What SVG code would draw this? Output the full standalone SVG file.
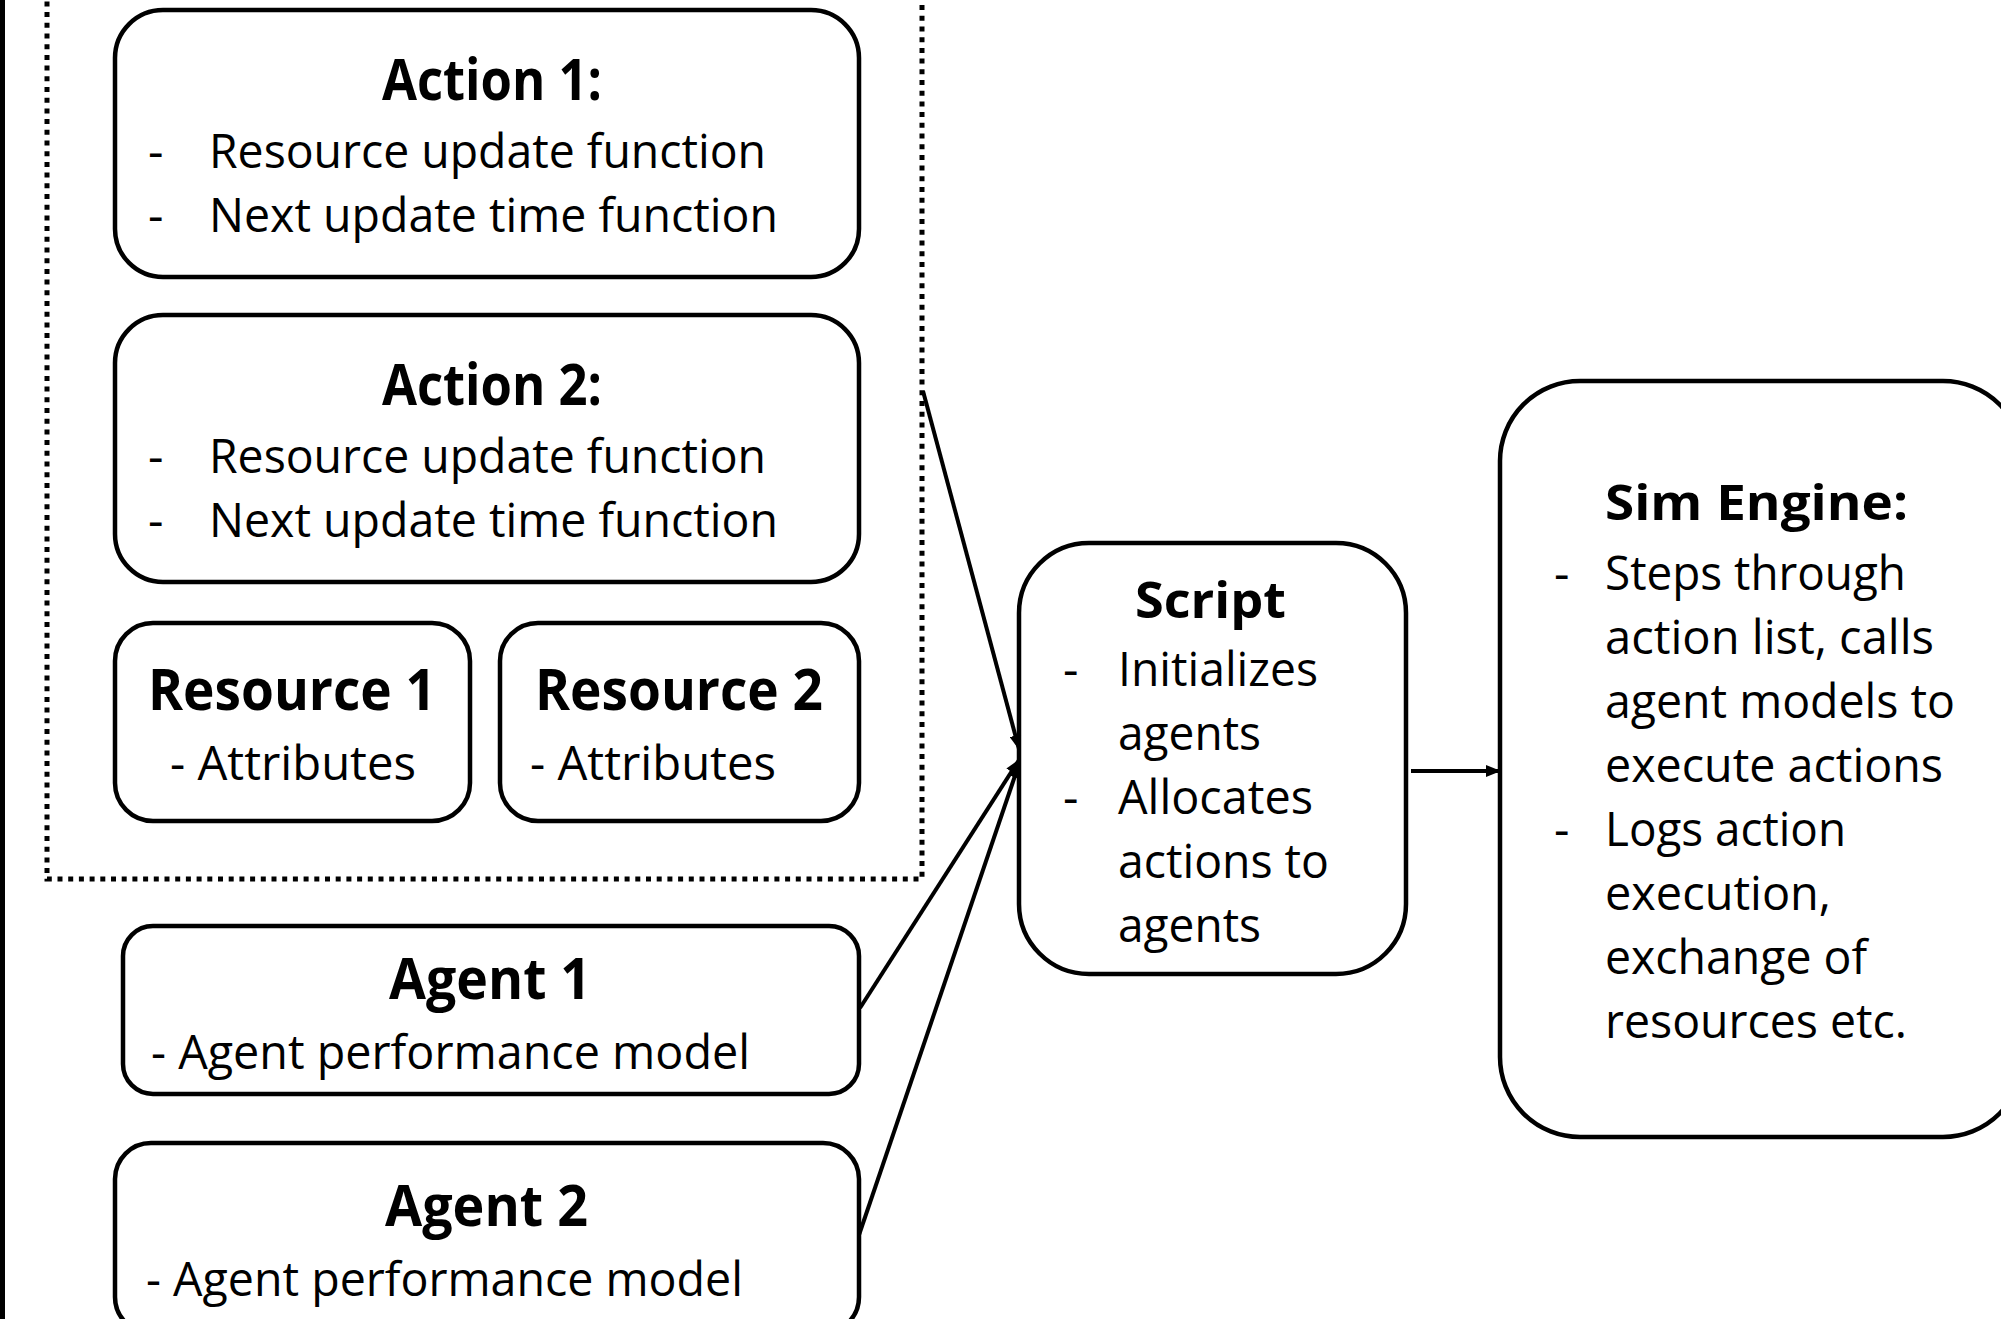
<svg xmlns="http://www.w3.org/2000/svg" width="2001" height="1319" viewBox="0 0 2001 1319">
<style>
.box{fill:#fff;stroke:#000;stroke-width:4.5}
.t{font-family:"Open Sans","Liberation Sans",sans-serif;fill:#000}
.b{font-weight:bold;font-size:58px}
.r{font-size:48px}
.st{font-size:50px;font-weight:bold}
.conn{stroke:#000;stroke-width:4;fill:none}
</style>
<defs>
<marker id="ah" markerUnits="userSpaceOnUse" markerWidth="16" markerHeight="12" refX="14" refY="6" orient="auto">
<path d="M0,0 L15,6 L0,12 z" fill="#000"/>
</marker>
</defs>
<rect width="2001" height="1319" fill="#fff"/>
<rect x="0" y="0" width="5" height="1319" fill="#000"/>
<g id="container">
<path d="M47,-20 V879 H922 V-20" fill="none" stroke="#000" stroke-width="5" stroke-dasharray="5 5.7"/>
</g>
<g id="action1">
<rect class="box" x="115" y="10" width="744" height="267" rx="48"/>
<text class="t b" x="382" y="100" textLength="220" lengthAdjust="spacingAndGlyphs">Action 1:</text>
<text class="t r" x="148" y="168">-</text>
<text class="t r" x="209" y="168" textLength="557" lengthAdjust="spacingAndGlyphs">Resource update function</text>
<text class="t r" x="148" y="232">-</text>
<text class="t r" x="209" y="232" textLength="569" lengthAdjust="spacingAndGlyphs">Next update time function</text>
</g>
<g id="action2">
<rect class="box" x="115" y="315" width="744" height="267" rx="48"/>
<text class="t b" x="382" y="405" textLength="220" lengthAdjust="spacingAndGlyphs">Action 2:</text>
<text class="t r" x="148" y="473">-</text>
<text class="t r" x="209" y="473" textLength="557" lengthAdjust="spacingAndGlyphs">Resource update function</text>
<text class="t r" x="148" y="537">-</text>
<text class="t r" x="209" y="537" textLength="569" lengthAdjust="spacingAndGlyphs">Next update time function</text>
</g>
<g id="resource1">
<rect class="box" x="115" y="623" width="355" height="198" rx="38"/>
<text class="t b" x="148" y="710" textLength="288" lengthAdjust="spacingAndGlyphs">Resource 1</text>
<text class="t r" x="170" y="780" textLength="246" lengthAdjust="spacingAndGlyphs">- Attributes</text>
</g>
<g id="resource2">
<rect class="box" x="500" y="623" width="359" height="198" rx="38"/>
<text class="t b" x="535" y="710" textLength="288" lengthAdjust="spacingAndGlyphs">Resource 2</text>
<text class="t r" x="530" y="780" textLength="246" lengthAdjust="spacingAndGlyphs">- Attributes</text>
</g>
<g id="agent1">
<rect class="box" x="123" y="926" width="736" height="168" rx="30"/>
<text class="t b" x="389" y="999" textLength="202" lengthAdjust="spacingAndGlyphs">Agent 1</text>
<text class="t r" x="151" y="1069" textLength="599" lengthAdjust="spacingAndGlyphs">- Agent performance model</text>
</g>
<g id="agent2">
<rect class="box" x="115" y="1143" width="744" height="190" rx="36"/>
<text class="t b" x="385" y="1226" textLength="203" lengthAdjust="spacingAndGlyphs">Agent 2</text>
<text class="t r" x="146" y="1296" textLength="597" lengthAdjust="spacingAndGlyphs">- Agent performance model</text>
</g>
<g id="script">
<rect class="box" x="1019" y="543" width="387" height="431" rx="70"/>
<text class="t st" x="1135" y="618" textLength="151" lengthAdjust="spacingAndGlyphs">Script</text>
<text class="t r" x="1063" y="686">-</text>
<text class="t r" x="1118" y="686" textLength="200" lengthAdjust="spacingAndGlyphs">Initializes</text>
<text class="t r" x="1118" y="750" textLength="143" lengthAdjust="spacingAndGlyphs">agents</text>
<text class="t r" x="1063" y="814">-</text>
<text class="t r" x="1118" y="814" textLength="195" lengthAdjust="spacingAndGlyphs">Allocates</text>
<text class="t r" x="1118" y="878" textLength="211" lengthAdjust="spacingAndGlyphs">actions to</text>
<text class="t r" x="1118" y="942" textLength="143" lengthAdjust="spacingAndGlyphs">agents</text>
</g>
<g id="simengine">
<rect class="box" x="1500" y="381" width="523" height="756" rx="80"/>
<text class="t" x="1605" y="520" font-size="49" font-weight="bold" textLength="303" lengthAdjust="spacingAndGlyphs">Sim Engine:</text>
<text class="t r" x="1554" y="590">-</text>
<text class="t r" x="1605" y="590" textLength="301" lengthAdjust="spacingAndGlyphs">Steps through</text>
<text class="t r" x="1605" y="654" textLength="329" lengthAdjust="spacingAndGlyphs">action list, calls</text>
<text class="t r" x="1605" y="718" textLength="350" lengthAdjust="spacingAndGlyphs">agent models to</text>
<text class="t r" x="1605" y="782" textLength="338" lengthAdjust="spacingAndGlyphs">execute actions</text>
<text class="t r" x="1554" y="846">-</text>
<text class="t r" x="1605" y="846" textLength="241" lengthAdjust="spacingAndGlyphs">Logs action</text>
<text class="t r" x="1605" y="910" textLength="226" lengthAdjust="spacingAndGlyphs">execution,</text>
<text class="t r" x="1605" y="974" textLength="262" lengthAdjust="spacingAndGlyphs">exchange of</text>
<text class="t r" x="1605" y="1038" textLength="302" lengthAdjust="spacingAndGlyphs">resources etc.</text>
</g>
<g id="connectors">
<line class="conn" x1="923" y1="391" x2="1019" y2="749" marker-end="url(#ah)"/>
<line class="conn" x1="860" y1="1008" x2="1019" y2="760" marker-end="url(#ah)"/>
<line class="conn" x1="859" y1="1235" x2="1019" y2="764" marker-end="url(#ah)"/>
<line class="conn" x1="1411" y1="771" x2="1500" y2="771" marker-end="url(#ah)"/>
</g>
</svg>
